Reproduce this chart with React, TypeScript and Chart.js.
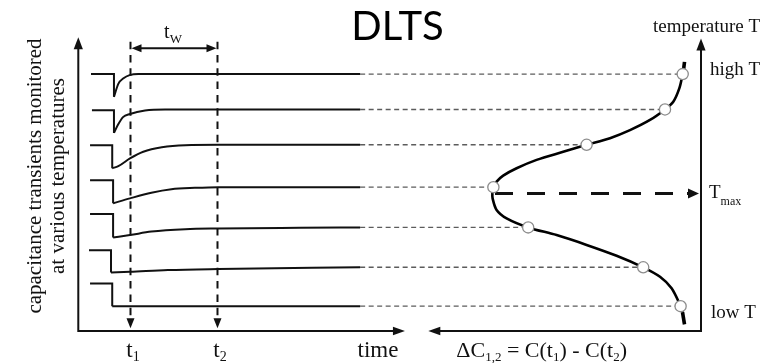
import React, { useEffect, useRef } from 'react';
import Chart from 'chart.js/auto';

// ---- Rate window (time units) ----
const T1 = 6;
const T2 = 16;

// ---- Capacitance transients, one row per temperature (top = high T) ----
const PULSE_START = [1.46, 1.57, 1.35, 1.35, 1.35, 1.23, 1.35];
const BASELINES = [73.4, 63.1, 53.1, 43.1, 33.4, 23.1, 13.6];
// recovery after the filling pulse: first sample is the bottom of the step
const DECAY_TIMES = [
  [4.1, 4.6, 5.2, 5.9, 6.9, 9.0, 32.4],
  [4.1, 4.56, 5.14, 5.94, 7.67, 9.97, 14.0, 32.4],
  [3.9, 4.6, 5.94, 7.47, 9.6, 12.3, 16.1, 32.4],
  [4.0, 5.94, 8.4, 10.7, 13.4, 16.1, 22.0, 32.4],
  [4.0, 5.94, 8.4, 12.3, 16.1, 25.5, 32.4],
  [3.76, 5.94, 10.3, 16.1, 32.4],
  [3.9, 32.4],
];
const DECAY_VALUES = [
  [66.9, 70.6, 72.2, 73.1, 73.4, 73.4, 73.4],
  [56.6, 58.9, 61.1, 62.0, 63.0, 63.3, 63.3, 63.3],
  [46.5, 47.1, 49.3, 51.2, 52.5, 53.1, 53.2, 53.2],
  [36.5, 37.9, 39.5, 40.5, 40.9, 41.1, 41.1, 41.1],
  [26.7, 27.4, 28.4, 29.1, 29.3, 29.5, 29.6],
  [16.7, 16.9, 17.4, 17.7, 18.2],
  [7.1, 7.1],
];

// ---- DLTS signal dC(t1) - C(t2) for each transient ----
const DELTA_C = [0.0915, 0.18, 0.572, 1.038, 0.864, 0.289, 0.102];

// ---- Continuous DLTS spectrum (signal vs temperature) ----
const CURVE_DC = [
  0.0875, 0.0915, 0.1085, 0.1385, 0.18, 0.255, 0.355, 0.455, 0.572, 0.689, 0.822,
  0.922, 0.989, 1.022, 1.038, 1.043, 1.042, 1.022, 0.972, 0.864, 0.722, 0.572,
  0.422, 0.289, 0.205, 0.147, 0.102, 0.0925,
];
const CURVE_TEMP = [
  74.6, 73.4, 69.3, 65.5, 63.3, 60.3, 57.4, 55.1, 53.2, 51.2, 48.9,
  46.5, 44.4, 42.7, 41.1, 39.4, 37.9, 34.6, 32.2, 29.6, 27.4, 24.6,
  21.5, 18.2, 15.5, 12.2, 7.1, 5.4,
];
const CURVE_TOP_DC = [0.0825, 0.0875];
const CURVE_TOP_TEMP = [76.9, 74.6];
const CURVE_TAIL_DC = [0.0925, 0.0825];
const CURVE_TAIL_TEMP = [5.4, 1.9];

// ---- Peak of the spectrum ----
const T_MAX = 39.3;
const T_MAX_FROM = 1.03;
const T_MAX_TO = 0.06;
const T_MAX_TIP = 0.01;

// ---- Axes extents ----
const TIME_AXIS_END = 37.55;
const SIGNAL_AXIS_END = 1.3635;
const LEFT_AXIS_TOP = 83.9;
const TEMP_AXIS_TOP = 83.6;
const GATE_TOP = 82.66;
const GATE_BASE = 3.63;
const GATE_TIP = 0.77;
const TW_LEVEL = 80.77;

const SERIF = '"Liberation Serif", "Times New Roman", serif';
const INK = '#111';

const last = (a: number[]) => a[a.length - 1];

type Part = { text: string; size: number; dy?: number };

function drawParts(ctx: CanvasRenderingContext2D, parts: Part[], x: number, y: number, align: 'left' | 'center', family = SERIF) {
  ctx.textAlign = 'left';
  ctx.textBaseline = 'alphabetic';
  const widths = parts.map((p) => {
    ctx.font = `${p.size}px ${family}`;
    return ctx.measureText(p.text).width;
  });
  const total = widths.reduce((s, w) => s + w, 0);
  let cx = align === 'center' ? x - total / 2 : x;
  parts.forEach((p, i) => {
    ctx.font = `${p.size}px ${family}`;
    ctx.fillText(p.text, cx, y + (p.dy || 0));
    cx += widths[i];
  });
}

function head(ctx: CanvasRenderingContext2D, tx: number, ty: number, fx: number, fy: number, len: number, half: number) {
  const dx = tx - fx;
  const dy = ty - fy;
  const d = Math.hypot(dx, dy) || 1;
  const ux = dx / d;
  const uy = dy / d;
  const bx = tx - ux * len;
  const by = ty - uy * len;
  ctx.beginPath();
  ctx.moveTo(tx, ty);
  ctx.lineTo(bx - uy * half, by + ux * half);
  ctx.lineTo(bx + uy * half, by - ux * half);
  ctx.closePath();
  ctx.fill();
  return [bx, by];
}

const diagramPlugin = {
  id: 'dltsDiagram',
  beforeDatasetsDraw(chart: any) {
    const { ctx, scales } = chart;
    const x = scales.x;
    const dc = scales.dc;
    const y = scales.y;
    // dashed guides from the end of each transient to its spectrum point
    ctx.save();
    ctx.strokeStyle = '#5c5c5c';
    ctx.lineWidth = 1.4;
    ctx.setLineDash([5, 3.5]);
    DELTA_C.forEach((v, i) => {
      const py = y.getPixelForValue(last(DECAY_VALUES[i]));
      ctx.beginPath();
      ctx.moveTo(x.getPixelForValue(last(DECAY_TIMES[i])), py);
      ctx.lineTo(dc.getPixelForValue(v), py);
      ctx.stroke();
    });
    ctx.restore();
  },
  afterDatasetsDraw(chart: any) {
    const { ctx, scales } = chart;
    const x = scales.x;
    const dc = scales.dc;
    const y = scales.y;
    ctx.save();
    ctx.strokeStyle = INK;
    ctx.fillStyle = INK;
    ctx.lineWidth = 2;
    ctx.lineJoin = 'miter';
    ctx.setLineDash([]);

    // left panel axes (capacitance / time)
    const ox = x.getPixelForValue(0);
    const oy = y.getPixelForValue(0);
    const ly = y.getPixelForValue(LEFT_AXIS_TOP);
    const tx = x.getPixelForValue(TIME_AXIS_END);
    ctx.beginPath();
    ctx.moveTo(ox, ly + 11);
    ctx.lineTo(ox, oy);
    ctx.lineTo(tx - 11, oy);
    ctx.stroke();
    head(ctx, ox, ly, ox, oy, 12, 4.6);
    head(ctx, tx, oy, ox, oy, 12, 4.3);

    // right panel axes (signal / temperature)
    const rx = dc.getPixelForValue(0);
    const ry = y.getPixelForValue(TEMP_AXIS_TOP);
    const sx = dc.getPixelForValue(SIGNAL_AXIS_END);
    ctx.beginPath();
    ctx.moveTo(rx, ry + 11);
    ctx.lineTo(rx, oy);
    ctx.lineTo(sx + 11, oy);
    ctx.stroke();
    head(ctx, rx, ry, rx, oy, 12, 4.6);
    head(ctx, sx, oy, rx, oy, 12, 4.3);

    // gate markers
    [T1, T2].forEach((t) => {
      const gx = x.getPixelForValue(t);
      head(ctx, gx, y.getPixelForValue(GATE_TIP), gx, y.getPixelForValue(GATE_BASE), 10, 4);
    });

    // rate window double arrow
    const wy = y.getPixelForValue(TW_LEVEL);
    const w1 = x.getPixelForValue(T1);
    const w2 = x.getPixelForValue(T2);
    ctx.beginPath();
    ctx.moveTo(w1 + 8, wy);
    ctx.lineTo(w2 - 8, wy);
    ctx.stroke();
    head(ctx, w1 + 1, wy, w2, wy, 10, 4);
    head(ctx, w2 - 1, wy, w1, wy, 10, 4);

    // T_max arrow head
    const my = y.getPixelForValue(T_MAX);
    head(ctx, dc.getPixelForValue(T_MAX_TIP), my, dc.getPixelForValue(T_MAX_FROM), my, 11, 5);

    // title
    ctx.fillStyle = '#000';
    ctx.font = '40px Lato, "Open Sans", sans-serif';
    ctx.textAlign = 'center';
    ctx.textBaseline = 'alphabetic';
    ctx.fillText('DLTS', x.getPixelForValue(36.7), y.getPixelForValue(83.1));

    ctx.fillStyle = INK;
    // vertical axis title
    const yl = y.getPixelForValue(44.29);
    [
      { text: 'capacitance transients monitored', at: -4.29 },
      { text: 'at various temperatures', at: -1.59 },
    ].forEach((l) => {
      ctx.save();
      ctx.translate(x.getPixelForValue(l.at), yl);
      ctx.rotate(-Math.PI / 2);
      ctx.font = `21px ${SERIF}`;
      ctx.textAlign = 'center';
      ctx.textBaseline = 'alphabetic';
      ctx.fillText(l.text, 0, 0);
      ctx.restore();
    });

    // rate window label
    drawParts(ctx, [{ text: 't', size: 20 }, { text: 'W', size: 13, dy: 4.4 }], x.getPixelForValue((T1 + T2) / 2) - 1, y.getPixelForValue(83.63), 'center');

    // bottom labels
    const by = y.getPixelForValue(-7.43);
    drawParts(ctx, [{ text: 't', size: 23 }, { text: '1', size: 14, dy: 3.5 }], x.getPixelForValue(T1) + 2.5, by, 'center');
    drawParts(ctx, [{ text: 't', size: 23 }, { text: '2', size: 14, dy: 3.5 }], x.getPixelForValue(T2) + 2.5, by, 'center');
    drawParts(ctx, [{ text: 'time', size: 23 }], x.getPixelForValue(34.45), by, 'center');
    drawParts(
      ctx,
      [
        { text: '\u0394C', size: 22 },
        { text: '1,2', size: 13, dy: 4 },
        { text: ' = C(t', size: 22 },
        { text: '1', size: 13, dy: 4 },
        { text: ') - C(t', size: 22 },
        { text: '2', size: 13, dy: 4 },
        { text: ')', size: 22 },
      ],
      dc.getPixelForValue(0.7965),
      by,
      'center'
    );

    // temperature axis labels
    drawParts(ctx, [{ text: 'temperature T', size: 19 }], dc.getPixelForValue(-0.028), y.getPixelForValue(85.51), 'center');
    drawParts(ctx, [{ text: 'high T', size: 19 }], dc.getPixelForValue(-0.045), y.getPixelForValue(73.14), 'left');
    drawParts(ctx, [{ text: 'T', size: 19 }, { text: 'max', size: 12, dy: 6.5 }], dc.getPixelForValue(-0.04), y.getPixelForValue(37.9), 'left');
    drawParts(ctx, [{ text: 'low T', size: 19 }], dc.getPixelForValue(-0.05), y.getPixelForValue(3.63), 'left');

    ctx.restore();
  },
};

function buildDatasets() {
  const ds: any[] = [];
  // spectrum sample points, drawn on top
  ds.push({
    xAxisID: 'dc',
    data: DELTA_C.map((v, i) => ({ x: v, y: last(DECAY_VALUES[i]) })),
    showLine: false,
    pointRadius: 5.6,
    pointBackgroundColor: '#ffffff',
    pointBorderColor: '#8c8c8c',
    pointBorderWidth: 1.3,
    order: -1,
  });
  // transients: filling-pulse step + recovery
  BASELINES.forEach((b, i) => {
    const t0 = DECAY_TIMES[i][0];
    ds.push({
      xAxisID: 'x',
      data: [
        { x: PULSE_START[i], y: b },
        { x: t0, y: b },
        { x: t0, y: DECAY_VALUES[i][0] },
      ],
      borderColor: INK,
      borderWidth: 2,
      tension: 0,
      borderJoinStyle: 'miter',
    });
    ds.push({
      xAxisID: 'x',
      data: DECAY_TIMES[i].map((t, k) => ({ x: t, y: DECAY_VALUES[i][k] })),
      borderColor: INK,
      borderWidth: 2,
      cubicInterpolationMode: 'monotone',
    });
  });
  // gate lines at t1, t2
  [T1, T2].forEach((t) => {
    ds.push({
      xAxisID: 'x',
      data: [
        { x: t, y: GATE_TOP },
        { x: t, y: GATE_BASE },
      ],
      borderColor: INK,
      borderWidth: 2,
      borderDash: [7.5, 5.8],
    });
  });
  // DLTS spectrum
  ds.push({
    xAxisID: 'dc',
    data: CURVE_DC.map((v, i) => ({ x: v, y: CURVE_TEMP[i] })),
    borderColor: '#000',
    borderWidth: 2.6,
    tension: 0.3,
  });
  ds.push({
    xAxisID: 'dc',
    data: CURVE_TOP_DC.map((v, i) => ({ x: v, y: CURVE_TOP_TEMP[i] })),
    borderColor: '#000',
    borderWidth: 3.6,
  });
  ds.push({
    xAxisID: 'dc',
    data: CURVE_TAIL_DC.map((v, i) => ({ x: v, y: CURVE_TAIL_TEMP[i] })),
    borderColor: '#000',
    borderWidth: 3.6,
  });
  // peak temperature marker
  ds.push({
    xAxisID: 'dc',
    data: [
      { x: T_MAX_FROM, y: T_MAX },
      { x: T_MAX_TO, y: T_MAX },
    ],
    borderColor: INK,
    borderWidth: 3,
    borderDash: [18, 14],
  });
  return ds;
}

export default function App() {
  const ref = useRef<HTMLCanvasElement>(null);
  useEffect(() => {
    if (!ref.current) return;
    const chart = new Chart(ref.current, {
      type: 'line',
      data: { datasets: buildDatasets() },
      options: {
        responsive: false,
        animation: false,
        devicePixelRatio: 1,
        events: [],
        layout: { padding: 0, autoPadding: false },
        elements: { point: { radius: 0 }, line: { borderCapStyle: 'butt' } },
        plugins: { legend: { display: false }, tooltip: { enabled: false }, title: { display: false } },
        scales: {
          x: { type: 'linear', min: -9, max: 80.2, display: false },
          dc: { type: 'linear', axis: 'x', position: 'bottom', min: -0.375, max: 3.505, reverse: true, display: false },
          y: { type: 'linear', min: -9.14, max: 94.57, display: false },
        },
      } as any,
      plugins: [diagramPlugin],
    });
    return () => chart.destroy();
  }, []);
  return (
    <div style={{ position: 'fixed', left: 0, top: 0, width: 776, height: 363, background: '#fff' }}>
      <canvas ref={ref} width={776} height={363} />
    </div>
  );
}
